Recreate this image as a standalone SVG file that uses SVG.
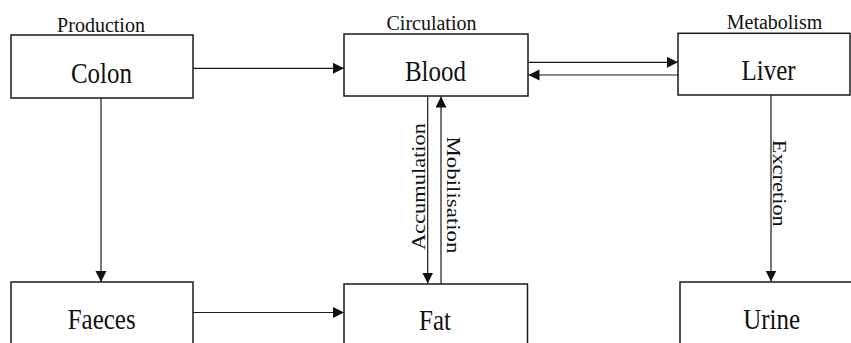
<svg xmlns="http://www.w3.org/2000/svg" width="851" height="343" viewBox="0 0 851 343">
<style>
.box{fill:#fff;stroke:#1a1a1a;stroke-width:1.5}
text{font-family:'Liberation Serif','Tinos','Times New Roman','DejaVu Serif',serif;fill:#111;text-anchor:middle}
.head{font-size:20px}
.lab{font-size:25px}
.edge{font-size:19px}
.con{fill:none;stroke:#1a1a1a;stroke-width:1.2}
</style>
<defs>
<marker id="ah" markerUnits="userSpaceOnUse" markerWidth="12" markerHeight="12" refX="11" refY="5.5" orient="auto">
<path d="M0,0 L11,5.5 L0,11 z" fill="#111"/>
</marker>
</defs>
<rect width="851" height="343" fill="#fff"/>
<g id="connectors">
<line class="con" x1="193" y1="68.3" x2="344" y2="68.3" marker-end="url(#ah)"/>
<line class="con" x1="528" y1="62.3" x2="678" y2="62.3" marker-end="url(#ah)"/>
<line class="con" x1="678" y1="75" x2="528.5" y2="75" marker-end="url(#ah)"/>
<line class="con" x1="101" y1="98" x2="101" y2="282" marker-end="url(#ah)"/>
<line class="con" x1="427.7" y1="96" x2="427.7" y2="283.5" marker-end="url(#ah)"/>
<line class="con" x1="441" y1="284" x2="441" y2="96.5" marker-end="url(#ah)"/>
<line class="con" x1="771" y1="95" x2="771" y2="281.5" marker-end="url(#ah)"/>
<line class="con" x1="193" y1="312.5" x2="344" y2="312.5" marker-end="url(#ah)"/>
<text class="edge" font-family="Liberation Serif, serif" transform="translate(424.5,186.5) rotate(-90)" textLength="127" lengthAdjust="spacingAndGlyphs">Accumulation</text>
<text class="edge" font-family="Liberation Serif, serif" transform="translate(446.5,195) rotate(90)" textLength="117" lengthAdjust="spacingAndGlyphs">Mobilisation</text>
<text class="edge" font-family="Liberation Serif, serif" transform="translate(772.5,183.3) rotate(90)" textLength="87" lengthAdjust="spacingAndGlyphs">Excretion</text>
</g>
<g id="colon">
<rect class="box" x="11" y="35" width="182" height="63"/>
<text class="head" font-family="Liberation Serif, serif" x="101" y="31.5">Production</text>
<text class="lab" font-family="Liberation Serif, serif" transform="translate(101.5,83) scale(1,1.17)">Colon</text>
</g>
<g id="blood">
<rect class="box" x="344" y="34" width="184" height="62"/>
<text class="head" font-family="Liberation Serif, serif" x="431.5" y="29.5">Circulation</text>
<text class="lab" font-family="Liberation Serif, serif" transform="translate(435.5,81) scale(1,1.17)">Blood</text>
</g>
<g id="liver">
<rect class="box" x="678" y="33.3" width="172" height="61.7"/>
<text class="head" font-family="Liberation Serif, serif" x="774.5" y="28.5">Metabolism</text>
<text class="lab" font-family="Liberation Serif, serif" transform="translate(768.5,80) scale(1,1.17)">Liver</text>
</g>
<g id="faeces">
<rect class="box" x="11" y="282" width="182" height="80"/>
<text class="lab" font-family="Liberation Serif, serif" transform="translate(101.7,329.3) scale(1,1.17)">Faeces</text>
</g>
<g id="fat">
<rect class="box" x="344" y="284" width="183.5" height="80"/>
<text class="lab" font-family="Liberation Serif, serif" transform="translate(435,330) scale(1,1.17)">Fat</text>
</g>
<g id="urine">
<rect class="box" x="680" y="282" width="190" height="80"/>
<text class="lab" font-family="Liberation Serif, serif" transform="translate(771.7,329) scale(1,1.17)">Urine</text>
</g>
</svg>
